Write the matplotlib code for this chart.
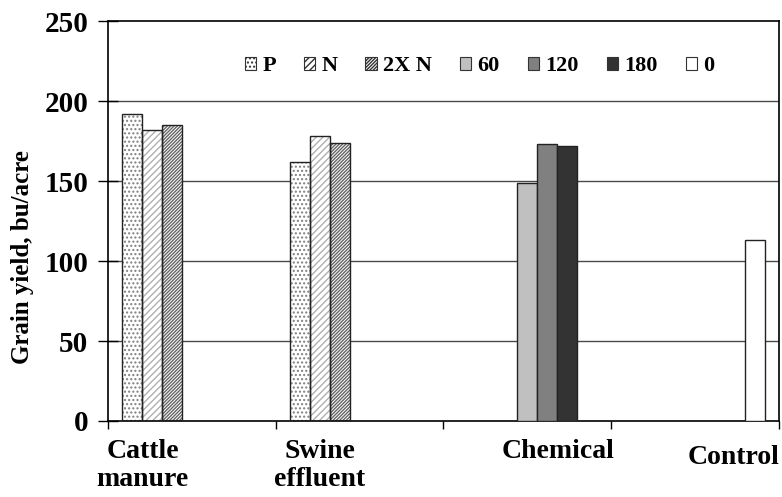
import numpy as np
import matplotlib
matplotlib.use('Agg')
import matplotlib.pyplot as plt
from matplotlib.patches import Patch

plt.rcParams['font.family'] = 'Liberation Serif'
plt.rcParams['font.weight'] = 'bold'
plt.rcParams['hatch.linewidth'] = 1.0

categories = ['Cattle\nmanure', 'Swine\neffluent', 'Chemical', 'Control']
series = ['P', 'N', '2X N', '60', '120', '180', '0']
# one value per category, nan where the series is absent
P = [192, 162, np.nan, np.nan]
N = [182, 178, np.nan, np.nan]
N2X = [185, 174, np.nan, np.nan]
C60 = [np.nan, np.nan, 149, np.nan]
C120 = [np.nan, np.nan, 173, np.nan]
C180 = [np.nan, np.nan, 172, np.nan]
C0 = [np.nan, np.nan, np.nan, 113]
values = [P, N, N2X, C60, C120, C180, C0]

# style per series: face, hatch, hatch colour
styles = [('white', '....', '#808080'),
          ('white', '/////', '#b0b0b0'),
          ('white', '//////////', '#666666'),
          ('#c0c0c0', None, None),
          ('#808080', None, None),
          ('#333333', None, None),
          ('white', None, None)]

fig = plt.figure(figsize=(7.82, 4.97), dpi=100)
ax = fig.add_axes([0.138, 0.153, 0.858, 0.804])

x = np.arange(len(categories))
w = 0.833 / 7
for j, (vals, (fc, h, hc)) in enumerate(zip(values, styles)):
    pos = x + (j - 3) * w
    if h:
        ax.bar(pos, vals, w, color=fc, hatch=h, edgecolor=hc, linewidth=0, zorder=2)
        ax.bar(pos, vals, w, fill=False, edgecolor='#222222', linewidth=1.0, zorder=3)
    else:
        ax.bar(pos, vals, w, color=fc, edgecolor='#222222', linewidth=1.0, zorder=3)

ax.set_xlim(-0.5, 3.5)
ax.set_ylim(0, 250)
ax.set_yticks([0, 50, 100, 150, 200, 250])
ax.tick_params(axis='y', direction='inout', length=14, width=1, labelsize=21, pad=7)
ax.set_xticks(np.arange(-0.5, 4.0, 1.0))
ax.set_xticklabels([])
ax.tick_params(axis='x', direction='out', length=6, width=1)
for lab in ax.get_yticklabels():
    lab.set_fontweight('bold')
for yv in [50, 100, 150, 200]:
    ax.axhline(yv, color='#4a4a4a', linewidth=1.0, zorder=1)
for s in ax.spines.values():
    s.set_linewidth(1.2)

ax.set_ylabel('Grain yield, bu/acre', fontsize=18, fontweight='bold')
ax.yaxis.set_label_coords(-0.11, 0.41)

# category labels sit off-centre like in the original sheet
label_x = [-0.292, 0.762, 2.185, 3.23]
label_y = [-0.045, -0.045, -0.045, -0.06]
for cx, cy, name in zip(label_x, label_y, categories):
    ax.text(cx, cy, name, transform=ax.get_xaxis_transform(), ha='center', va='top',
            fontsize=20, fontweight='bold', linespacing=1.15)

handles = []
for name, (fc, h, hc) in zip(series, styles):
    handles.append(Patch(facecolor=fc, hatch=h, edgecolor='#333333', linewidth=0.8, label=name))
leg = ax.legend(handles=handles, ncol=7, loc='center', bbox_to_anchor=(0.554, 0.8875),
                frameon=False, handlelength=0.5, handleheight=0.5,
                handletextpad=0.3, columnspacing=1.25, prop={'weight': 'bold', 'size': 16})

fig.savefig('out.png', dpi=100)
